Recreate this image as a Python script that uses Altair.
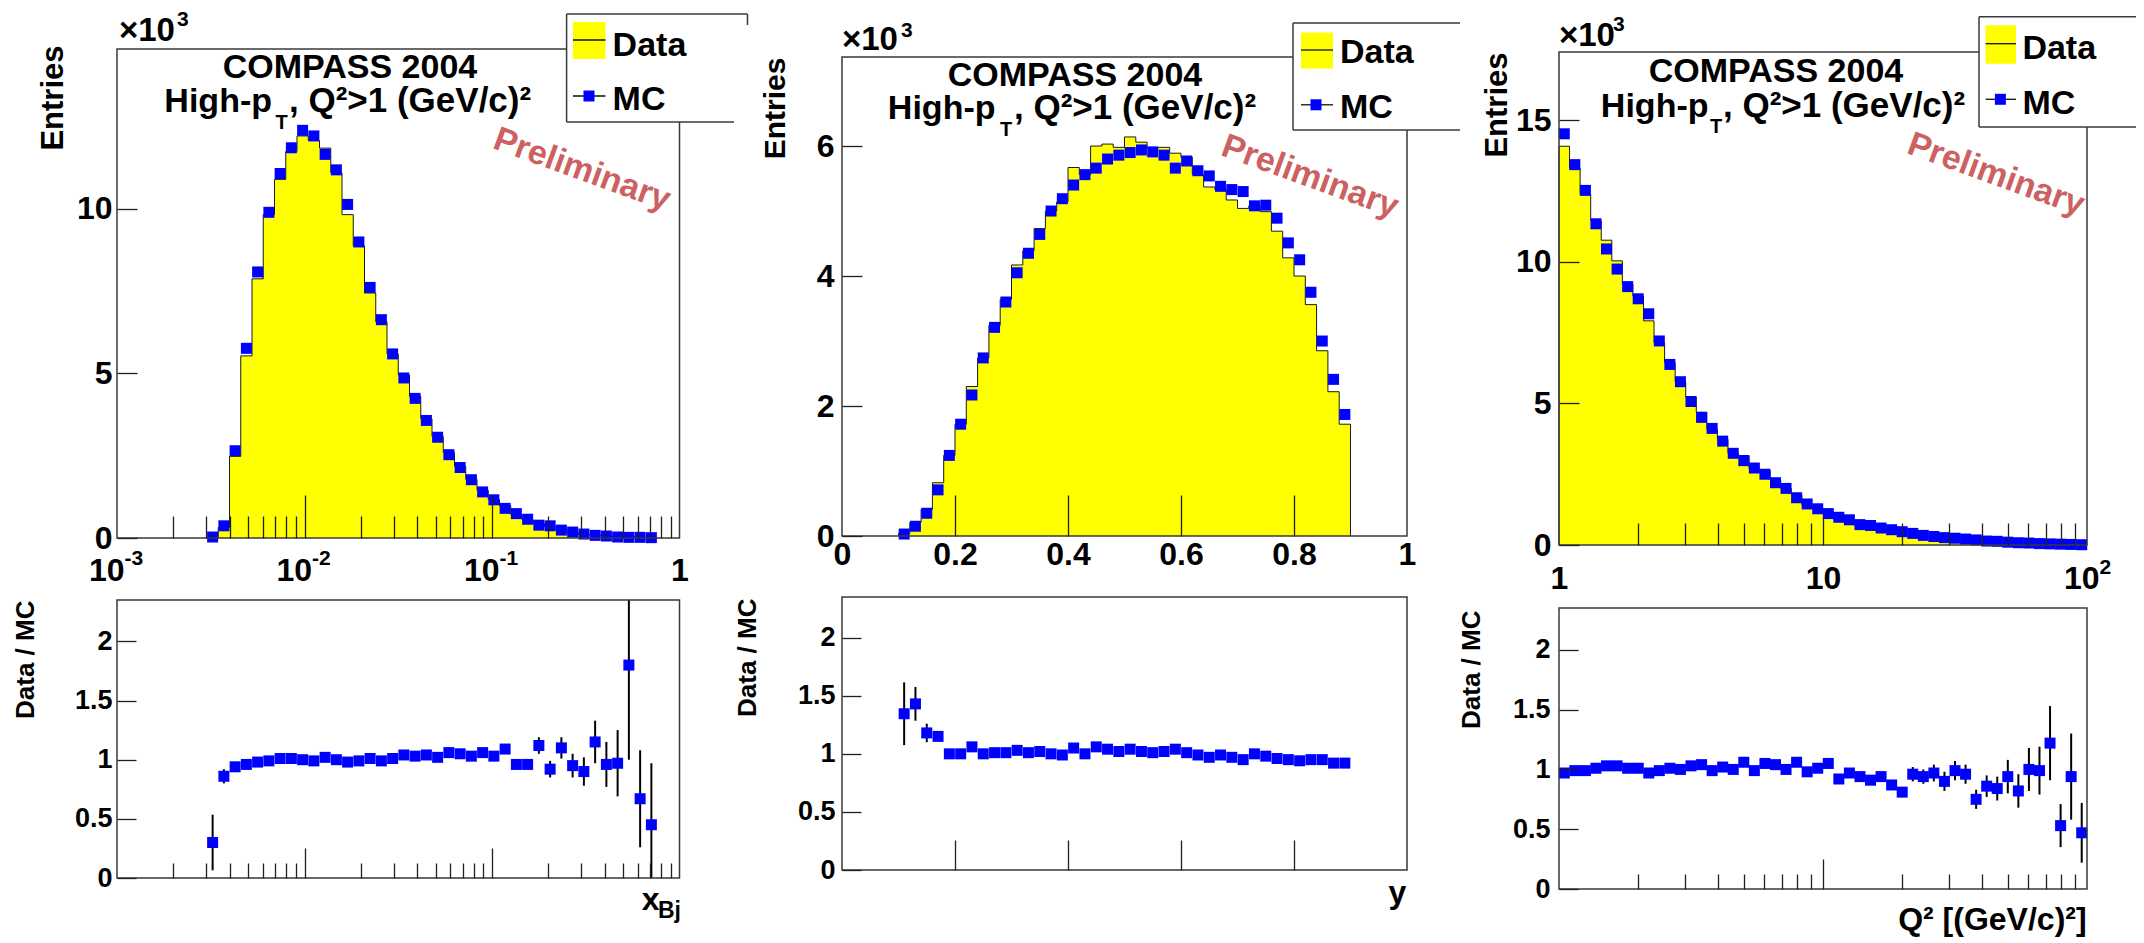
import altair as alt
import pandas as pd

FONT = "Liberation Sans"
YELLOW = "#ffff00"
BLUE = "#0000ff"
PRELIM_COLOR = "#cc6161"
FRAME = "#3a3a3a"
TICK = "#202020"

# ---------------- binning: 50 equal bins (log10 for x_Bj and Q2) ----------------
N_BINS = 50
XBJ_LOG10_RANGE = [-3.0, 0.0]
Y_RANGE = [0.0, 1.0]
Q2_LOG10_RANGE = [0.0, 2.0]

# ---------------- x_Bj panel (entries in units of 10^3), bins 8..47 ----------------
XBJ_FIRST_BIN = 8
XBJ_DATA = [0.01, 0.32, 2.48, 5.53, 7.87, 9.82, 10.89, 11.74, 12.21, 12.07,
            11.84, 11.09, 9.82, 8.87, 7.44, 6.57, 5.59, 4.95, 4.30, 3.62,
            3.08, 2.60, 2.18, 1.78, 1.45, 1.17, 0.98, 0.71, 0.55, 0.44,
            0.34, 0.26, 0.17, 0.11, 0.09, 0.06, 0.03, 0.04, 0.01, 0.005]
XBJ_MC = [0.03, 0.37, 2.65, 5.76, 8.08, 9.89, 11.07, 11.85, 12.38, 12.21,
          11.65, 11.18, 10.13, 8.99, 7.61, 6.63, 5.59, 4.86, 4.24, 3.57,
          3.06, 2.53, 2.14, 1.77, 1.40, 1.16, 0.90, 0.74, 0.57, 0.39,
          0.37, 0.24, 0.18, 0.12, 0.08, 0.06, 0.03, 0.02, 0.02, 0.01]
XBJ_RATIO = [0.30, 0.86, 0.94, 0.96, 0.98, 0.99, 1.01, 1.01, 1.00, 0.99,
             1.02, 1.00, 0.98, 0.99, 1.01, 0.99, 1.01, 1.04, 1.03, 1.04,
             1.02, 1.06, 1.05, 1.03, 1.06, 1.03, 1.09, 0.96, 0.96, 1.12,
             0.92, 1.10, 0.95, 0.90, 1.15, 0.96, 0.97, 1.80, 0.67, 0.45]
XBJ_RATIO_ERR = [0.235, 0.06, 0.02, 0.02, 0.02, 0.02, 0.02, 0.02, 0.02, 0.02,
                 0.02, 0.02, 0.02, 0.02, 0.02, 0.02, 0.02, 0.02, 0.02, 0.02,
                 0.02, 0.02, 0.02, 0.02, 0.02, 0.02, 0.03, 0.03, 0.03, 0.07,
                 0.07, 0.09, 0.10, 0.12, 0.18, 0.19, 0.28, 0.80, 0.41, 0.52]

# ---------------- y panel, bins 5..44 ----------------
Y_FIRST_BIN = 5
Y_DATA = [0.04, 0.21, 0.41, 0.82, 1.24, 1.72, 2.30, 2.74, 3.24, 3.64,
          4.17, 4.39, 4.73, 5.00, 5.14, 5.67, 5.56, 6.00, 6.03, 5.98,
          6.14, 6.06, 5.97, 5.98, 5.89, 5.83, 5.56, 5.37, 5.33, 5.17,
          5.04, 5.08, 4.99, 4.69, 4.28, 4.00, 3.56, 2.85, 2.22, 1.72]
Y_MC = [0.03, 0.15, 0.35, 0.71, 1.24, 1.72, 2.17, 2.74, 3.21, 3.60,
        4.05, 4.35, 4.64, 5.00, 5.19, 5.40, 5.56, 5.66, 5.80, 5.86,
        5.90, 5.94, 5.91, 5.86, 5.66, 5.77, 5.62, 5.54, 5.38, 5.33,
        5.30, 5.08, 5.09, 4.89, 4.51, 4.25, 3.75, 3.00, 2.41, 1.87]
Y_RATIO = [1.345, 1.43, 1.18, 1.15, 1.00, 1.00, 1.06, 1.00, 1.01, 1.01,
           1.03, 1.01, 1.02, 1.00, 0.99, 1.05, 1.00, 1.06, 1.04, 1.02,
           1.04, 1.02, 1.01, 1.02, 1.04, 1.01, 0.99, 0.97, 0.99, 0.97,
           0.95, 1.00, 0.98, 0.96, 0.95, 0.94, 0.95, 0.95, 0.92, 0.92]
Y_RATIO_ERR = [0.27, 0.145, 0.08, 0.03, 0.02, 0.02, 0.02, 0.02, 0.02, 0.02,
               0.02, 0.02, 0.02, 0.02, 0.02, 0.02, 0.02, 0.02, 0.02, 0.02,
               0.02, 0.02, 0.02, 0.02, 0.02, 0.02, 0.02, 0.02, 0.02, 0.02,
               0.02, 0.02, 0.02, 0.02, 0.02, 0.02, 0.02, 0.02, 0.02, 0.02]

# ---------------- Q2 panel, bins 0..49 ----------------
Q2_FIRST_BIN = 0
Q2_DATA = [14.09, 13.31, 12.40, 11.46, 10.77, 10.04, 9.22, 8.79, 7.92, 7.14,
           6.44, 5.77, 5.22, 4.69, 4.08, 3.74, 3.24, 3.16, 2.69, 2.63,
           2.29, 2.00, 1.77, 1.42, 1.29, 1.17, 0.90, 0.86, 0.68, 0.63,
           0.56, 0.47, 0.38, 0.39, 0.32, 0.29, 0.23, 0.24, 0.20, 0.14,
           0.12, 0.11, 0.09, 0.07, 0.07, 0.05, 0.05, 0.02, 0.02, 0.005]
Q2_MC = [14.53, 13.44, 12.53, 11.35, 10.46, 9.75, 9.13, 8.70, 8.17, 7.21,
         6.38, 5.77, 5.07, 4.51, 4.12, 3.67, 3.24, 2.98, 2.72, 2.50,
         2.20, 2.00, 1.67, 1.45, 1.28, 1.11, 0.98, 0.89, 0.72, 0.69,
         0.60, 0.54, 0.47, 0.41, 0.34, 0.30, 0.26, 0.24, 0.21, 0.18,
         0.14, 0.13, 0.10, 0.08, 0.07, 0.05, 0.04, 0.03, 0.02, 0.01]
Q2_RATIO = [0.97, 0.99, 0.99, 1.01, 1.03, 1.03, 1.01, 1.01, 0.97, 0.99,
            1.01, 1.00, 1.03, 1.04, 0.99, 1.02, 1.00, 1.06, 0.99, 1.05,
            1.04, 1.00, 1.06, 0.98, 1.01, 1.05, 0.92, 0.97, 0.94, 0.91,
            0.94, 0.87, 0.81, 0.96, 0.94, 0.97, 0.90, 0.99, 0.96, 0.75,
            0.86, 0.84, 0.94, 0.82, 1.00, 0.99, 1.22, 0.53, 0.94, 0.47]
Q2_RATIO_ERR = [0.02, 0.02, 0.02, 0.02, 0.02, 0.02, 0.02, 0.02, 0.02, 0.02,
                0.02, 0.02, 0.02, 0.02, 0.02, 0.02, 0.02, 0.02, 0.02, 0.02,
                0.02, 0.02, 0.02, 0.02, 0.02, 0.02, 0.02, 0.02, 0.02, 0.02,
                0.02, 0.02, 0.03, 0.06, 0.06, 0.07, 0.08, 0.08, 0.08, 0.08,
                0.09, 0.10, 0.14, 0.14, 0.18, 0.20, 0.31, 0.18, 0.36, 0.25]

# ---------------- axis ticks and labels ----------------
XBJ_DOMAIN = [0.001, 1.0]
XBJ_LABEL_VALUES = [0.001, 0.01, 0.1, 1.0]
XBJ_LABEL_BASE = ["10", "10", "10", "1"]
XBJ_LABEL_EXP = ["-3", "-2", "-1", ""]
XBJ_MAJOR = [0.01, 0.1]
XBJ_MINOR = [m * 10.0 ** e for e in (-3, -2, -1) for m in range(2, 10)]
Y_DOMAIN = [0.0, 1.0]
Y_LABEL_VALUES = [0.0, 0.2, 0.4, 0.6, 0.8, 1.0]
Y_LABEL_BASE = ["0", "0.2", "0.4", "0.6", "0.8", "1"]
Y_LABEL_EXP = ["", "", "", "", "", ""]
Y_MAJOR = [0.2, 0.4, 0.6, 0.8]
Q2_DOMAIN = [1.0, 100.0]
Q2_LABEL_VALUES = [1.0, 10.0, 100.0]
Q2_LABEL_BASE = ["1", "10", "10"]
Q2_LABEL_EXP = ["", "", "2"]
Q2_MAJOR = [10.0]
Q2_MINOR = [m * 10.0 ** e for e in (0, 1) for m in range(2, 10)]
ENTRIES_TICKS_XBJ = [0, 5, 10]
ENTRIES_TICKS_Y = [0, 2, 4, 6]
ENTRIES_TICKS_Q2 = [0, 5, 10, 15]
RATIO_DOMAIN = [0.0, 2.35]
RATIO_TICKS = [0, 0.5, 1, 1.5, 2]

# canvas (one view holding the six frames); page margin of the html page
CW, CH, M = 2128, 932, 8

ONE = alt.Data(values=[{"k": 0}])
NUM_EXPR = "'' + datum.value"


def edges_of(rng, log):
    w = (rng[1] - rng[0]) / N_BINS
    e = [rng[0] + w * i for i in range(N_BINS + 1)]
    return [10 ** v for v in e] if log else e


def centers_of(edges, log):
    if log:
        return [(edges[i] * edges[i + 1]) ** 0.5 for i in range(N_BINS)]
    return [(edges[i] + edges[i + 1]) / 2 for i in range(N_BINS)]


def fill_frame(edges, first, vals):
    last = first + len(vals) - 1
    xs = [edges[first + k] for k in range(len(vals))] + [edges[last + 1]]
    vs = list(vals) + [vals[-1]]
    return pd.DataFrame({"x": xs, "v": vs})


def outline_frame(edges, first, vals):
    last = first + len(vals) - 1
    xs = [edges[first]] + [edges[first + k] for k in range(len(vals))] + [edges[last + 1], edges[last + 1]]
    vs = [0.0] + list(vals) + [vals[-1], 0.0]
    return pd.DataFrame({"x": xs, "v": vs, "idx": list(range(len(xs)))})


def point_frame(centers, first, mc, ratio, err):
    n = len(mc)
    return pd.DataFrame({
        "xc": centers[first:first + n],
        "mc": mc,
        "r": ratio,
        "lo": [r - e for r, e in zip(ratio, err)],
        "hi": [r + e for r, e in zip(ratio, err)],
    })


def label_expr(values, labels, log):
    expr = "'" + labels[-1] + "'"
    pairs = list(zip(values[:-1], values[1:], labels[:-1]))
    for lo, hi, lab in reversed(pairs):
        thr = (lo * hi) ** 0.5 if log else (lo + hi) / 2
        expr = "datum.value < %r ? '%s' : (%s)" % (thr, lab, expr)
    return expr


def has_exp_test(values, exps, log):
    # expression true for label values that carry an exponent
    tests = []
    for v, e in zip(values, exps):
        if e:
            tests.append("abs(datum.value - %r) < %r" % (v, v * 0.01 + 1e-9))
    return " || ".join(tests) if tests else "false"


def tick_axis(orient, offset, values, size):
    return alt.Axis(orient=orient, offset=offset, values=values, labels=False, domain=False,
                    grid=False, ticks=True, tickSize=size, tickColor=TICK, tickWidth=1.3,
                    title=None, zindex=1)


def x_label_axis(values, expr, pad, offset, test=None, shift=0):
    kw = dict(orient="bottom", offset=offset, values=values, labelExpr=expr, ticks=False,
              tickSize=0, domain=False, grid=False, labelPadding=pad,
              labelBaseline="alphabetic", labelFont=FONT,
              labelFontSize=32, labelFontWeight="bold", labelColor="black",
              labelFlush=False, labelOverlap=False, title=None)
    if test:
        kw["labelAlign"] = {"condition": {"test": test, "value": "right"}, "value": "center"}
        kw["labelOffset"] = {"condition": {"test": test, "value": shift}, "value": 0}
    else:
        kw["labelAlign"] = "center"
    return alt.Axis(**kw)


def x_exp_axis(values, expr, pad, offset, shift):
    return alt.Axis(orient="bottom", offset=offset, values=values, labelExpr=expr, ticks=False,
                    tickSize=0, domain=False, grid=False, labelPadding=pad,
                    labelBaseline="alphabetic", labelAlign="left", labelOffset=shift,
                    labelFont=FONT, labelFontSize=21, labelFontWeight="bold",
                    labelColor="black", labelFlush=False, labelOverlap=False, title=None)


def y_label_axis(values, offset, pad, size, title, tsize, tx, ty):
    return alt.Axis(orient="left", offset=offset, values=values, labelExpr=NUM_EXPR, ticks=False,
                    tickSize=0, domain=False, grid=False, labelPadding=pad, labelAlign="right",
                    labelBaseline="middle", labelFont=FONT, labelFontSize=size,
                    labelFontWeight="bold", labelColor="black", labelFlush=False,
                    labelOverlap=False, title=title, titleFont=FONT, titleFontSize=tsize,
                    titleFontWeight="bold", titleColor="black", titleAngle=270,
                    titleAlign="right", titleBaseline="alphabetic", titleX=tx, titleY=ty)


def text(s, x, y, size, align="left", color="black", angle=0, baseline="alphabetic"):
    props = dict(text=s, font=FONT, fontSize=size, fontWeight="bold", align=align,
                 baseline=baseline, color=color)
    if angle:
        props["angle"] = angle
    return alt.Chart(ONE).mark_text(**props).encode(x=alt.value(x), y=alt.value(y))


def hline(x1, x2, y, color=FRAME, width=1.5):
    return alt.Chart(ONE).mark_rule(color=color, strokeWidth=width).encode(
        x=alt.value(x1), x2=alt.value(x2), y=alt.value(y))


def vline(x, y1, y2, color=FRAME, width=1.5):
    return alt.Chart(ONE).mark_rule(color=color, strokeWidth=width).encode(
        x=alt.value(x), y=alt.value(y1), y2=alt.value(y2))


def box(x1, x2, y1, y2, color):
    return alt.Chart(ONE).mark_rect(color=color).encode(
        x=alt.value(x1), x2=alt.value(x2), y=alt.value(y1), y2=alt.value(y2))


def square(x, y):
    return alt.Chart(ONE).mark_point(shape="square", filled=True, size=121, color=BLUE,
                                     opacity=1).encode(x=alt.value(x), y=alt.value(y))


def frame_rect(xs, ys, xdom, ydom, xaxis=None):
    d = alt.Data(values=[{"a": xdom[0], "b": xdom[1], "c": ydom[0], "d": ydom[1]}])
    return alt.Chart(d).mark_rect(fill="transparent", stroke=FRAME, strokeWidth=1.5).encode(
        x=alt.X("a:Q", scale=xs, axis=xaxis), x2="b:Q",
        y=alt.Y("c:Q", scale=ys, axis=None), y2="d:Q")


def legend(L, ox, oy):
    x1, x2, y1, y2 = [ox + L["box"][0], ox + L["box"][1], oy + L["box"][2], oy + L["box"][3]]
    layers = [box(x1, x2, y1, y2, "white"), hline(x1, ox + L["top_end"], y1), vline(x1, y1, y2),
              hline(x1, ox + L["bottom_end"], y2)]
    if L.get("right_edge") is not None:
        layers.append(vline(x2, y1, oy + L["right_edge"]))
    sx1, sx2, sy1, sy2 = L["sym"]
    layers += [box(ox + sx1, ox + sx2, oy + sy1, oy + sy2, YELLOW),
               hline(ox + sx1, ox + sx2, oy + L["data_line"], "#111111", 1.3),
               hline(ox + sx1, ox + sx2, oy + L["mc_y"], "#111111", 1.3),
               square(ox + L["mc_x"], oy + L["mc_y"]),
               text("Data", ox + L["tx"], oy + L["data_base"], 34),
               text("MC", ox + L["tx"], oy + L["mc_base"], 34)]
    return layers


def header(A, ox, oy):
    return [
        text("×10", ox + A["x10"][0], oy + A["x10"][1], 33),
        text("3", ox + A["x10_exp"][0], oy + A["x10_exp"][1], 21),
        text("COMPASS 2004", ox + A["compass"][0], oy + A["compass"][1], 34, align="center"),
        text("High-p", ox + A["high_right"], oy + A["base"], 34, align="right"),
        text("T", ox + A["t_left"], oy + A["t_base"], 20),
        text(", Q²>1 (GeV/c)²", ox + A["c_left"], oy + A["base"], 35),
        text("Preliminary", ox + A["prelim"][0], oy + A["prelim"][1], 34, align="center",
             color=PRELIM_COLOR, angle=20, baseline="middle"),
    ]


def xscale(c):
    rng = [c["x0"] - M, c["x1"] - M]
    if c["log"]:
        return alt.Scale(type="log", domain=c["xdom"], range=rng, nice=False)
    return alt.Scale(domain=c["xdom"], range=rng, nice=False, zero=False)


def top_panel(c):
    ox, oy, bottom = c["x0"] - M, c["ty0"] - M, c["ty1"] - M
    xs = xscale(c)
    ydom = [0, c["ymax"]]
    ys = alt.Scale(domain=ydom, range=[bottom, oy], nice=False, zero=False)
    vals, base, exps = c["xlab_values"], c["xlab_base"], c["xlab_exp"]
    test = has_exp_test(vals, exps, c["log"]) if any(exps) else None
    area = alt.Chart(c["fill"]).mark_area(interpolate="step-after", color=YELLOW, opacity=1).encode(
        x=alt.X("x:Q", scale=xs,
                axis=x_label_axis(vals, label_expr(vals, base, c["log"]), c["xlab_pad"],
                                  bottom - CH, test, c["base_shift"])),
        y=alt.Y("v:Q", scale=ys, stack=None,
                axis=y_label_axis(c["yvals"], -ox, c["ylab_pad"], 32, "Entries",
                                  c["ytitle_size"], c["ytitle_x"], oy + c["ytitle_y"])))
    outline = alt.Chart(c["outline"]).mark_line(interpolate="step-after", color="#1a1a1a",
                                               strokeWidth=1).encode(
        x=alt.X("x:Q", scale=xs, axis=tick_axis("top", -bottom, c["major"], c["major_len"])),
        y=alt.Y("v:Q", scale=ys, axis=tick_axis("right", ox - CW, c["yvals"], 20)),
        order=alt.Order("idx:Q"))
    minor_axis = tick_axis("top", -bottom, c["minor"], 22) if c["minor"] else None
    pts = alt.Chart(c["pts"]).mark_point(shape="square", filled=True, size=121, color=BLUE,
                                         opacity=1).encode(
        x=alt.X("xc:Q", scale=xs, axis=minor_axis),
        y=alt.Y("mc:Q", scale=ys, axis=None))
    exp_axis = None
    if any(exps):
        ev = [v for v, e in zip(vals, exps) if e]
        el = [e for e in exps if e]
        exp_axis = x_exp_axis(ev, label_expr(ev, el, c["log"]) if len(ev) > 1 else "'%s'" % el[0],
                              c["exp_pad"], bottom - CH, c["base_shift"])
    frame = frame_rect(xs, ys, c["xdom"], ydom, exp_axis)
    return [area, outline, pts, frame] + legend(c["legend"], ox, oy) + header(c["ann"], ox, oy)


def bottom_panel(c):
    ox, oy, bottom = c["x0"] - M, c["by0"] - M, c["by1"] - M
    xs = xscale(c)
    ys = alt.Scale(domain=RATIO_DOMAIN, range=[bottom, oy], nice=False, zero=False, clamp=True)
    err = alt.Chart(c["pts"]).mark_rule(color="black", strokeWidth=2).encode(
        x=alt.X("xc:Q", scale=xs, axis=tick_axis("top", -bottom, c["major"], 30)),
        y=alt.Y("lo:Q", scale=ys, axis=y_label_axis(RATIO_TICKS, -ox, c["rlab_pad"], 27, "Data / MC",
                                                    26, c["rtitle_x"], oy + c["rtitle_y"])),
        y2="hi:Q")
    minor_axis = tick_axis("top", -bottom, c["minor"], 15) if c["minor"] else None
    pts = alt.Chart(c["pts"]).mark_point(shape="square", filled=True, size=121, color=BLUE,
                                         opacity=1).encode(
        x=alt.X("xc:Q", scale=xs, axis=minor_axis),
        y=alt.Y("r:Q", scale=ys, axis=tick_axis("right", ox - CW, RATIO_TICKS, 19)))
    frame = frame_rect(xs, ys, c["xdom"], RATIO_DOMAIN)
    titles = [text(s, ox + rx, oy + ry, size, align="right") for (s, rx, ry, size) in c["xtitle"]]
    return [err, pts, frame] + titles


# ---------------- panel configurations (page pixel geometry) ----------------
e1 = edges_of(XBJ_LOG10_RANGE, True)
e2 = edges_of(Y_RANGE, False)
e3 = edges_of(Q2_LOG10_RANGE, True)

P1 = dict(
    x0=117, x1=679.5, ty0=49, ty1=538, by0=600, by1=878, ymax=14.85, log=True, xdom=XBJ_DOMAIN,
    fill=fill_frame(e1, XBJ_FIRST_BIN, XBJ_DATA),
    outline=outline_frame(e1, XBJ_FIRST_BIN, XBJ_DATA),
    pts=point_frame(centers_of(e1, True), XBJ_FIRST_BIN, XBJ_MC, XBJ_RATIO, XBJ_RATIO_ERR),
    xlab_values=XBJ_LABEL_VALUES, xlab_base=XBJ_LABEL_BASE, xlab_exp=XBJ_LABEL_EXP,
    xlab_pad=42, exp_pad=26, base_shift=7,
    major=XBJ_MAJOR, major_len=43, minor=XBJ_MINOR,
    yvals=ENTRIES_TICKS_XBJ, ylab_pad=5, ytitle_size=31, ytitle_x=-55, ytitle_y=-4,
    rlab_pad=5, rtitle_x=-84, rtitle_y=0,
    legend=dict(box=(449.6, 630.5, -35, 73), top_end=630.5, bottom_end=617, right_edge=-24,
                sym=(456, 488.5, -27, 10), data_line=-9, mc_x=472, mc_y=47,
                tx=495.6, data_base=6.5, mc_base=61),
    ann=dict(x10=(2, -8.3), x10_exp=(60, -23), compass=(233, 28.5), high_right=155,
             t_left=158.5, t_base=80, c_left=172, base=63, prelim=(465, 121)),
    xtitle=[("x", 542.6, 310, 32), ("Bj", 564, 318, 23)],
)
P2 = dict(
    x0=842, x1=1407, ty0=57, ty1=536, by0=597, by1=870, ymax=7.37, log=False, xdom=Y_DOMAIN,
    fill=fill_frame(e2, Y_FIRST_BIN, Y_DATA),
    outline=outline_frame(e2, Y_FIRST_BIN, Y_DATA),
    pts=point_frame(centers_of(e2, False), Y_FIRST_BIN, Y_MC, Y_RATIO, Y_RATIO_ERR),
    xlab_values=Y_LABEL_VALUES, xlab_base=Y_LABEL_BASE, xlab_exp=Y_LABEL_EXP,
    xlab_pad=28, exp_pad=12, base_shift=0,
    major=Y_MAJOR, major_len=41, minor=[],
    yvals=ENTRIES_TICKS_Y, ylab_pad=8, ytitle_size=30, ytitle_x=-58, ytitle_y=0,
    rlab_pad=7, rtitle_x=-87, rtitle_y=1,
    legend=dict(box=(451, 618, -34, 73), top_end=618, bottom_end=618, right_edge=None,
                sym=(459, 491, -24.4, 11.5), data_line=-7, mc_x=474, mc_y=47.8,
                tx=498, data_base=6, mc_base=60.8),
    ann=dict(x10=(0, -7), x10_exp=(59, -20), compass=(233, 29), high_right=153.5,
             t_left=158, t_base=79, c_left=172, base=62, prelim=(468, 120)),
    xtitle=[("y", 564.4, 306, 32)],
)
P3 = dict(
    x0=1559, x1=2087, ty0=52, ty1=545, by0=608, by1=889, ymax=17.42, log=True, xdom=Q2_DOMAIN,
    fill=fill_frame(e3, Q2_FIRST_BIN, Q2_DATA),
    outline=outline_frame(e3, Q2_FIRST_BIN, Q2_DATA),
    pts=point_frame(centers_of(e3, True), Q2_FIRST_BIN, Q2_MC, Q2_RATIO, Q2_RATIO_ERR),
    xlab_values=Q2_LABEL_VALUES, xlab_base=Q2_LABEL_BASE, xlab_exp=Q2_LABEL_EXP,
    xlab_pad=43, exp_pad=28, base_shift=12,
    major=Q2_MAJOR, major_len=28, minor=Q2_MINOR,
    yvals=ENTRIES_TICKS_Q2, ylab_pad=8, ytitle_size=31, ytitle_x=-52.5, ytitle_y=0,
    rlab_pad=9, rtitle_x=-80, rtitle_y=2,
    legend=dict(box=(420, 577, -35.3, 75), top_end=577, bottom_end=577, right_edge=None,
                sym=(426.6, 457, -26.8, 11.7), data_line=-8.3, mc_x=441.4, mc_y=47.3,
                tx=463.4, data_base=6.5, mc_base=62),
    ann=dict(x10=(0, -6), x10_exp=(54, -20.6), compass=(217, 29.5), high_right=149.5,
             t_left=151, t_base=81, c_left=164, base=64.7, prelim=(437, 123)),
    xtitle=[("Q² [(GeV/c)²]", 527.6, 322, 32)],
)

layers = []
for P in (P1, P2, P3):
    layers += top_panel(P)
    layers += bottom_panel(P)

chart = alt.layer(*layers).resolve_scale(x="independent", y="independent").resolve_axis(
    x="independent", y="independent").properties(
    width=CW, height=CH, autosize=alt.AutoSizeParams(type="none"), padding=0,
    background="white").configure_view(stroke="transparent")

chart.save("out.html", embed_options={"renderer": "svg", "actions": False})
